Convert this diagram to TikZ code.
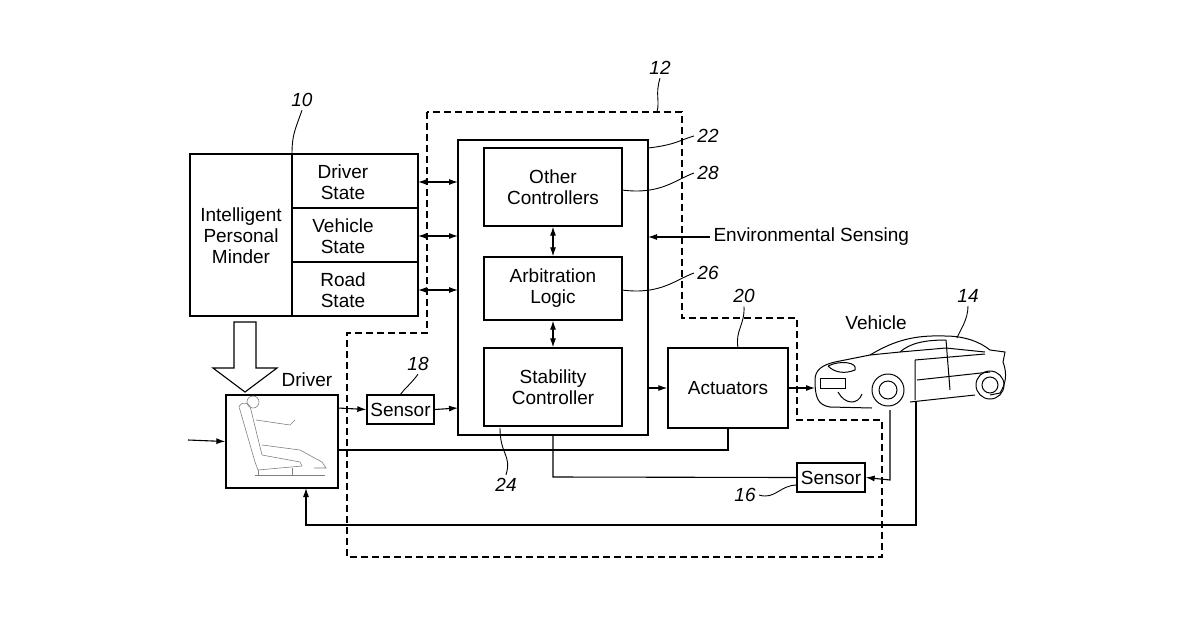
\documentclass[tikz,border=0pt]{standalone}
\usepackage{fontspec}
\setmainfont{Liberation Sans}
\usetikzlibrary{arrows.meta}
\begin{document}
\begin{tikzpicture}[x=1pt,y=-1pt,
 box/.style={draw,line width=1.3pt,inner sep=0pt},
 lbl/.style={font=\fontsize{19}{20}\selectfont\itshape},
 txt/.style={font=\fontsize{19}{21}\selectfont,align=center},
 ln/.style={line width=1.1pt},
 arr/.style={ln,-{Latex[length=9pt,width=6pt]}},
 darr/.style={ln,{Latex[length=9pt,width=6pt]}-{Latex[length=9pt,width=6pt]}},
 lead/.style={line width=0.9pt},
 dashb/.style={line width=1.1pt,dash pattern=on 7pt off 4pt}]
\useasboundingbox (0,0) rectangle (1200,630);
% dashed boundary 12
\draw[dashb] (427,112) -- (427,333) -- (347,333) -- (347,557) -- (882,557) -- (882,420) -- (797,420) -- (797,318) -- (682,318) -- (682,112) -- cycle;
\coordinate (d12) at (657,112);
\node[lbl] (l12) at (660,68) {12};
\draw[lead] (l12.south) .. controls (655,95) and (660,100) .. (d12);
% IPM
\node[box,minimum width=228pt,minimum height=162pt] (ipm) at (304,235) {};
\draw[box] (292,154) -- (292,316);
\draw[box] (292,208) -- (418,208);
\draw[box] (292,262) -- (418,262);
\node[txt] (ipmt) at (241,236) {Intelligent\\Personal\\Minder};
\node[txt] (ds) at (343,182) {Driver\\State};
\node[txt] (vs) at (343,236) {Vehicle\\State};
\node[txt] (rs) at (343,290) {Road\\State};
\node[lbl] (l10) at (302,100) {10};
\draw[lead] (l10.south) .. controls (295,130) and (292,135) .. (292,154);
% controller 22
\node[box,minimum width=190pt,minimum height=295pt] (c22) at (553,287.5) {};
\node[box,minimum width=138pt,minimum height=78pt,txt] (oc) at (553,187) {Other\\Controllers};
\node[box,minimum width=138pt,minimum height=63pt,txt] (al) at (553,288.5) {Arbitration\\Logic};
\node[box,minimum width=138pt,minimum height=78pt,txt] (sc) at (553,387) {Stability\\Controller};
\draw[darr] (oc.south) -- (al.north);
\draw[darr] (al.south) -- (sc.north);
\foreach \y in {182,236,290} \draw[darr] (418,\y) -- (458,\y);
\node[txt,anchor=west] (env) at (710,237) {Environmental Sensing};
\draw[arr] (env.west) -- (648,237);
\node[lbl] (l22) at (708,136) {22};
\draw[lead] (648,148) .. controls (675,145) and (680,140) .. (l22.west);
\node[lbl] (l28) at (708,173) {28};
\draw[lead] (622,190) .. controls (660,195) and (675,180) .. (l28.west);
\node[lbl] (l26) at (708,273) {26};
\draw[lead] (622,290) .. controls (660,295) and (675,280) .. (l26.west);
% actuators
\node[box,minimum width=120pt,minimum height=80pt,txt] (act) at (728,388) {Actuators};
\draw[arr] (648,388) -- (act.west);
\node[lbl] (l20) at (744,296) {20};
\draw[lead] (l20.south) .. controls (745,325) and (735,330) .. (738,348);
% driver
\node[box,minimum width=112pt,minimum height=93pt] (drv) at (282,441.5) {};
\node[txt] (drvt) at (307,380) {Driver};
\draw[gray,line width=0.6pt] (240,410) .. controls (236,404) and (246,400) .. (250,406) -- (262,455) -- (300,462) -- (302,466) -- (258,470) -- (255,462) -- cycle;
\draw[gray,line width=0.6pt] (253,402) circle (6pt);
\draw[gray,line width=0.6pt] (256,420) -- (290,425) -- (295,420) (262,445) -- (300,450) -- (322,462) -- (326,468) -- (314,468);
\draw[gray,line width=0.6pt] (258,470) -- (258,475) -- (292,475) -- (292,468) (255,475) -- (325,475);
\draw[arr] (188,440) -- (drv.west);
% hollow arrow
\draw[line width=1.1pt] (234,322) -- (256,322) -- (256,368) -- (277,368) -- (245,392) -- (213,368) -- (234,368) -- cycle;
% sensor 18
\node[box,minimum width=67pt,minimum height=29pt,txt] (s18) at (400.5,409.5) {Sensor};
\draw[arr] (338,408) -- (s18.west);
\draw[arr] (s18.east) -- (458,408);
\node[lbl] (l18) at (418,364) {18};
\draw[lead] (l18.south) .. controls (410,385) and (405,388) .. (s18.north);
\node[lbl] (l24) at (506,485) {24};
\draw[lead] (500,428) .. controls (500,455) and (512,455) .. (l24.north);
% sensor 16
\node[box,minimum width=68pt,minimum height=29pt,txt] (s16) at (831,477.5) {Sensor};
\node[lbl] (l16) at (745,495) {16};
\draw[lead] (l16.east) .. controls (775,500) and (780,485) .. (797,485);
% car
\begin{scope}[line width=1pt]
\draw (815,380) .. controls (815,370) and (822,365) .. (835,362) -- (870,355) .. controls (895,340) and (915,335) .. (945,336) .. controls (965,336) and (980,342) .. (990,350) -- (1005,352) -- (1003,362) .. controls (1008,375) and (1005,385) .. (1000,393) -- (990,395) (975,395) -- (910,402) (872,408) -- (830,407) .. controls (818,405) and (815,398) .. (815,380);
\draw (870,355) -- (900,352) -- (946,348) -- (985,352);
\draw (900,352) .. controls (910,343) and (925,340) .. (946,340);
\draw (946,340) -- (950,390) (915,360) -- (915,400) (915,360) -- (985,354) (917,380) -- (990,372);
\draw (888,390) circle (16pt);
\draw (888,390) circle (9pt);
\draw (990,385) circle (14pt);
\draw (990,385) circle (8pt);
\draw (838,392) .. controls (845,405) and (858,405) .. (862,394);
\draw (820,378) rectangle (845,388);
\draw (828,366) .. controls (840,360) and (858,362) .. (855,370) .. controls (845,374) and (835,373) .. (828,366);
\end{scope}
\coordinate (car) at (815,388);
\coordinate (cw) at (890,410);
\coordinate (cr) at (916,402);
\node[txt] (veh) at (876,323) {Vehicle};
\node[lbl] (l14) at (968,296) {14};
\draw[lead] (l14.south) .. controls (968,320) and (960,330) .. (957,338);
\draw[arr] (act.east) -- (car);
% connections
\draw[ln] (338,450) -- (728,450) -- (act.south);
\draw[ln] (553,435) -- (553,477) -- (s16.west);
\draw[arr] (cw) -- (890,480) -- (s16.east);
\draw[arr] (cr) -- (916,525) -- (306,525) -- (306,488);
\end{tikzpicture}
\end{document}
